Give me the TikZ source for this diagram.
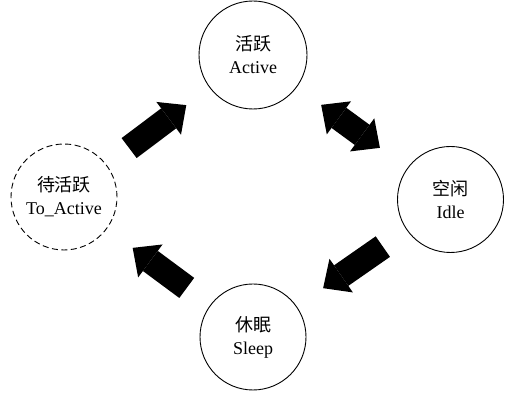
\documentclass[tikz,border=0pt]{standalone}
\usepackage{fontspec}
\setmainfont{Liberation Serif}
\newfontfamily\cjk{Noto Sans CJK SC}
\usetikzlibrary{arrows.meta}
\begin{document}
\begin{tikzpicture}[x=1pt,y=1pt,
  state/.style={circle,draw,line width=0.9pt,minimum size=106pt,inner sep=0pt,align=center,
    font=\fontsize{18}{23}\selectfont},
  blockarrow/.style={line width=25pt,-{Triangle[length=22pt,width=41pt,line width=0pt]}},
  dblarrow/.style={line width=25pt,{Triangle[length=22pt,width=41pt,line width=0pt]}-{Triangle[length=22pt,width=41pt,line width=0pt]}}]
\useasboundingbox (0,0) rectangle (512,393);
\node[state,minimum size=108pt] (act) at (253,338) {{\cjk 活跃}\\Active};
\node[state,dashed,dash pattern=on 6pt off 3.5pt] (ta) at (64,196) {{\cjk 待活跃}\\To\_Active};
\node[state] (idle) at (450.5,193.5) {{\cjk 空闲}\\Idle};
\node[state] (sleep) at (253,56) {{\cjk 休眠}\\Sleep};
\draw[blockarrow,shorten <=28pt,shorten >=29pt] (ta) -- (act);
\draw[dblarrow,shorten <=30pt,shorten >=34pt] (act) -- (idle);
\draw[blockarrow,shorten <=29pt,shorten >=32pt] (idle) -- (sleep);
\draw[blockarrow,shorten <=29pt,shorten >=32pt] (sleep) -- (ta);
\end{tikzpicture}
\end{document}
